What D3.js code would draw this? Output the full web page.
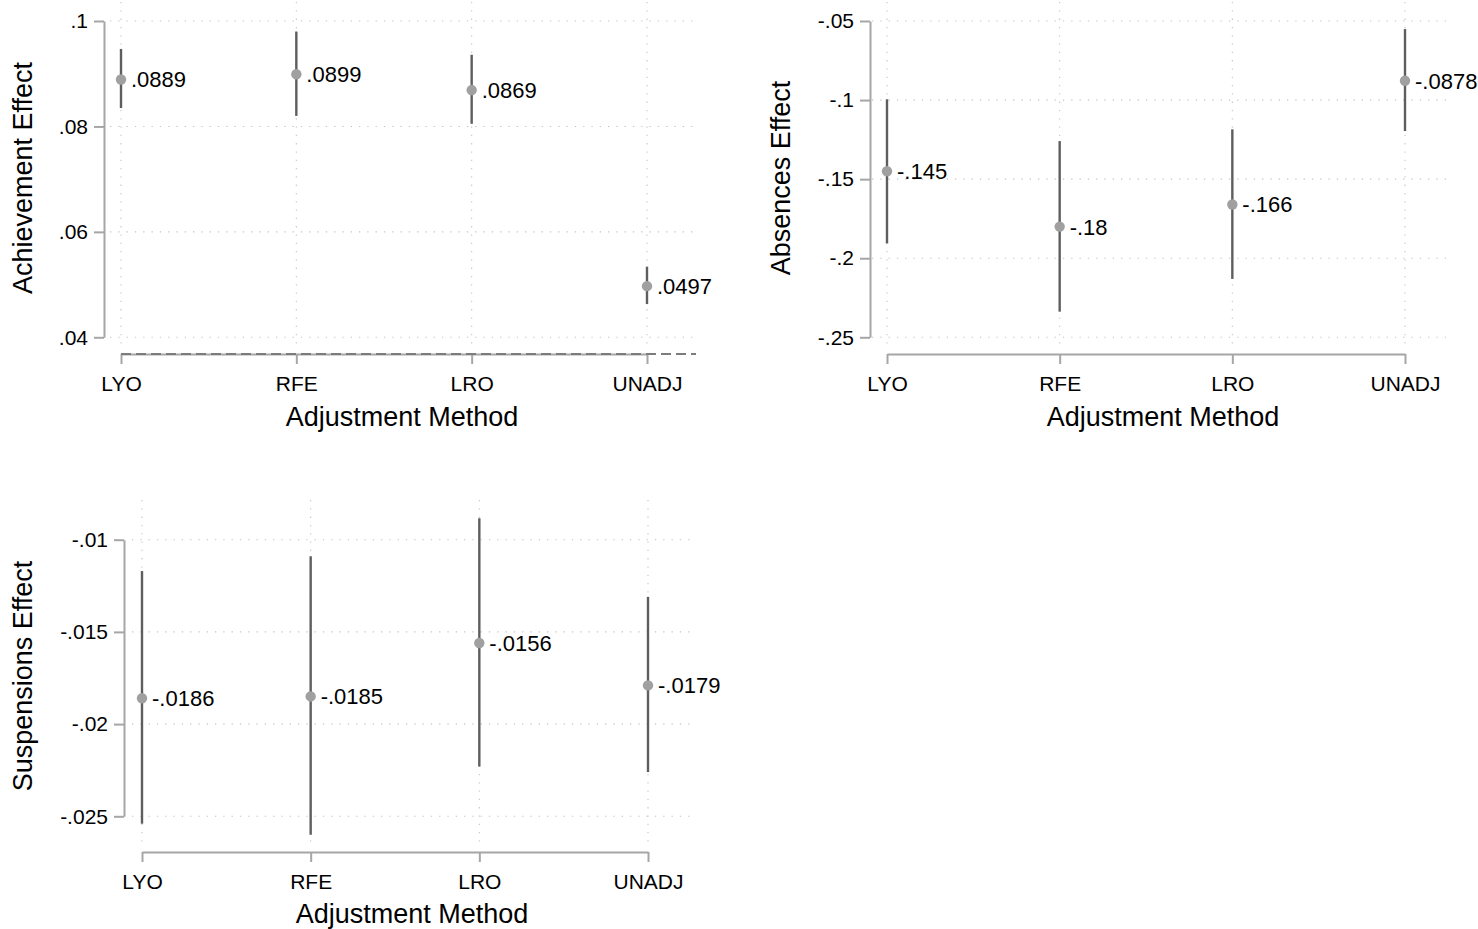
<!DOCTYPE html>
<html>
<head>
<meta charset="utf-8">
<script src="https://cdn.jsdelivr.net/npm/d3@7"></script>
<style>
  html, body { margin: 0; padding: 0; background: #fff; }
  svg { display: block; font-family: "Liberation Sans", Arial, sans-serif; }
</style>
</head>
<body>
<svg id="chart" width="1478" height="929"></svg>
<script>
// ---------- DATA ----------
const categories = ["LYO", "RFE", "LRO", "UNADJ"];

const achEst = [0.0889, 0.0899, 0.0869, 0.0497];
const achLo  = [0.0835, 0.0820, 0.0805, 0.0463];
const achHi  = [0.0947, 0.0980, 0.0936, 0.0534];
const achTicks = [0.04, 0.06, 0.08, 0.1];
const achTickLabels = [".04", ".06", ".08", ".1"];

const absEst = [-0.145, -0.18, -0.166, -0.0878];
const absLo  = [-0.1906, -0.2338, -0.2131, -0.1196];
const absHi  = [-0.0995, -0.1259, -0.1185, -0.0551];
const absTicks = [-0.25, -0.2, -0.15, -0.1, -0.05];
const absTickLabels = ["-.25", "-.2", "-.15", "-.1", "-.05"];

const susEst = [-0.0186, -0.0185, -0.0156, -0.0179];
const susLo  = [-0.0254, -0.0260, -0.0223, -0.0226];
const susHi  = [-0.0117, -0.0109, -0.00884, -0.0131];
const susTicks = [-0.025, -0.02, -0.015, -0.01];
const susTickLabels = ["-.025", "-.02", "-.015", "-.01"];

const xTitle = "Adjustment Method";

// ---------- DRAW ----------
const svg = d3.select("#chart");
const fmtVal = v => String(v).replace("0.", ".");

function panel(cfg) {
  const g = svg.append("g");
  const x = d3.scalePoint().domain(categories).range(cfg.xRange);
  const y = d3.scaleLinear().domain(cfg.yDomain).range(cfg.yRange);

  // grid: horizontal
  g.selectAll("line.hgrid").data(cfg.ticks).enter().append("line")
    .attr("x1", cfg.region[0]).attr("x2", cfg.region[1])
    .attr("y1", d => y(d)).attr("y2", d => y(d))
    .attr("stroke", "#c4c4c4").attr("stroke-width", 1.1)
    .attr("stroke-dasharray", "1.3,7");
  // grid: vertical
  g.selectAll("line.vgrid").data(categories).enter().append("line")
    .attr("x1", d => x(d)).attr("x2", d => x(d))
    .attr("y1", cfg.region[2]).attr("y2", cfg.region[3])
    .attr("stroke", "#c4c4c4").attr("stroke-width", 1.1)
    .attr("stroke-dasharray", "1.3,7");

  // y axis
  const yAxis = d3.axisLeft(y).tickValues(cfg.ticks)
    .tickFormat((d, i) => cfg.tickLabels[i]).tickSize(10).tickSizeOuter(0).tickPadding(6);
  const ya = g.append("g").attr("transform", `translate(${cfg.yAxisX},0)`).call(yAxis);
  ya.select(".domain").attr("stroke", "#a6a6a6").attr("stroke-width", 2);
  ya.selectAll(".tick line").attr("stroke", "#a6a6a6").attr("stroke-width", 2);
  ya.selectAll(".tick text").attr("fill", "#000").style("font-size", "21px")
    .style("font-family", '"Liberation Sans", Arial, sans-serif');

  // x axis
  const xAxis = d3.axisBottom(x).tickSize(10).tickSizeOuter(0).tickPadding(12);
  const xa = g.append("g").attr("transform", `translate(0,${cfg.xAxisY})`).call(xAxis);
  xa.select(".domain").attr("stroke", "#a6a6a6").attr("stroke-width", 2);
  xa.selectAll(".tick line").attr("stroke", "#a6a6a6").attr("stroke-width", 2);
  xa.selectAll(".tick text").attr("fill", "#000").style("font-size", "21px")
    .style("font-family", '"Liberation Sans", Arial, sans-serif');

  if (cfg.dashed) {
    g.append("line")
      .attr("x1", x(categories[0])).attr("x2", cfg.dashed)
      .attr("y1", cfg.xAxisY).attr("y2", cfg.xAxisY)
      .attr("stroke", "#7c7c7c").attr("stroke-width", 2)
      .attr("stroke-dasharray", "10,5");
  }

  // error bars
  g.selectAll("line.ci").data(categories).enter().append("line")
    .attr("x1", d => x(d)).attr("x2", d => x(d))
    .attr("y1", (d, i) => y(cfg.lo[i])).attr("y2", (d, i) => y(cfg.hi[i]))
    .attr("stroke", "#5e5e5e").attr("stroke-width", 2.4);
  // markers
  g.selectAll("circle.pt").data(categories).enter().append("circle")
    .attr("cx", d => x(d)).attr("cy", (d, i) => y(cfg.est[i])).attr("r", 5.2)
    .attr("fill", "#a0a0a0");
  // labels
  g.selectAll("text.lbl").data(categories).enter().append("text")
    .attr("x", d => x(d) + 10).attr("y", (d, i) => y(cfg.est[i]))
    .attr("dy", "0.36em").style("font-size", "22px").attr("fill", "#000")
    .text((d, i) => fmtVal(cfg.est[i]));

  // titles
  g.append("text").attr("x", cfg.xTitlePos[0]).attr("y", cfg.xTitlePos[1])
    .attr("text-anchor", "middle").style("font-size", "27px").attr("fill", "#000")
    .text(xTitle);
  g.append("text")
    .attr("transform", `translate(${cfg.yTitlePos[0]},${cfg.yTitlePos[1]}) rotate(-90)`)
    .attr("text-anchor", "middle").style("font-size", "27px").attr("fill", "#000")
    .text(cfg.yTitle);
}

panel({
  xRange: [121, 647], yDomain: [0.04, 0.1], yRange: [337.3, 21],
  ticks: achTicks, tickLabels: achTickLabels,
  est: achEst, lo: achLo, hi: achHi,
  region: [110, 697, 2, 345], yAxisX: 104, xAxisY: 354, dashed: 696,
  xTitlePos: [402, 426], yTitlePos: [32, 178], yTitle: "Achievement Effect"
});

panel({
  xRange: [887, 1405], yDomain: [-0.25, -0.05], yRange: [337.3, 21],
  ticks: absTicks, tickLabels: absTickLabels,
  est: absEst, lo: absLo, hi: absHi,
  region: [872, 1453, 2, 345], yAxisX: 870, xAxisY: 354, dashed: null,
  xTitlePos: [1163, 426], yTitlePos: [790, 178], yTitle: "Absences Effect"
});

panel({
  xRange: [142, 648], yDomain: [-0.025, -0.01], yRange: [816.3, 539.7],
  ticks: susTicks, tickLabels: susTickLabels,
  est: susEst, lo: susLo, hi: susHi,
  region: [132, 692, 500, 843], yAxisX: 124, xAxisY: 852, dashed: null,
  xTitlePos: [412, 923], yTitlePos: [32, 676], yTitle: "Suspensions Effect"
});
</script>
</body>
</html>
